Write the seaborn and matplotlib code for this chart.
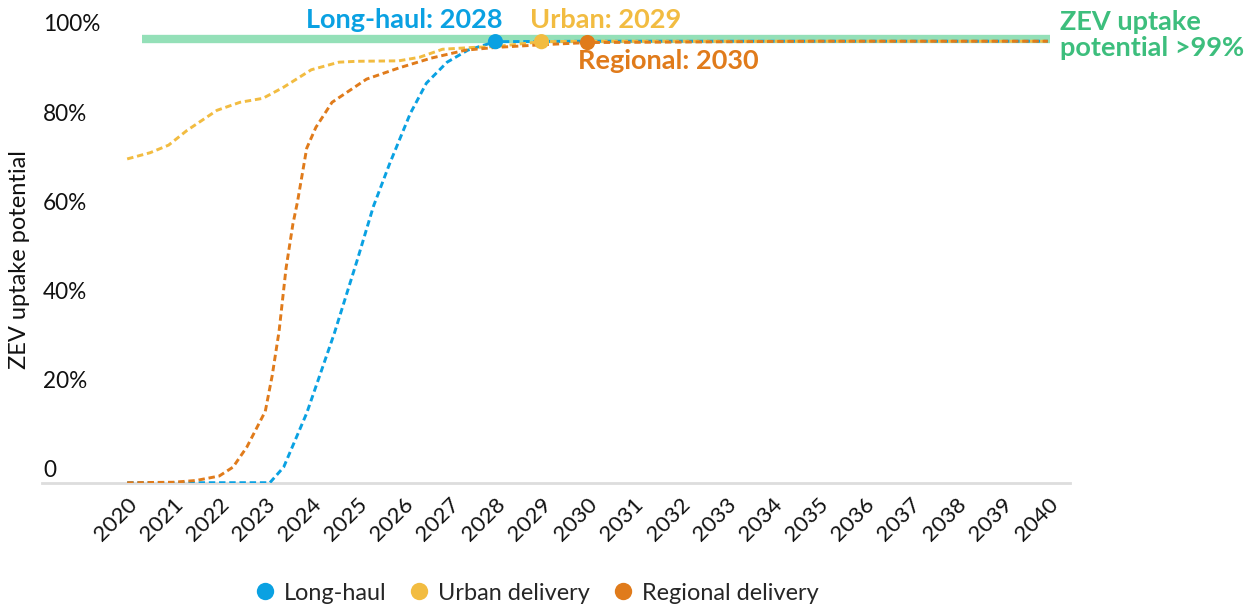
import matplotlib
matplotlib.use("Agg")
import matplotlib.pyplot as plt
import matplotlib.transforms as mtransforms
from matplotlib.lines import Line2D
import seaborn as sns
import pandas as pd

# Valores (ano, potencial de adoção ZEV)
longhaul_years = [2020, 2021, 2022, 2023, 2023.1, 2023.4, 2023.9, 2024.5, 2025.0, 2025.35,
                  2025.7, 2026.15, 2026.5, 2026.95, 2027.4, 2028, 2030, 2035, 2040]
longhaul_vals = [0, 0, 0, 0, 0, 0.035, 0.156, 0.335, 0.50, 0.62,
                 0.715, 0.828, 0.896, 0.943, 0.97, 0.989, 0.99, 0.99, 0.99]

urban_years = [2020, 2020.5, 2020.9, 2021.3, 2021.95, 2022.45, 2022.95, 2023.4, 2024.0, 2024.6,
               2025.0, 2025.9, 2026.35, 2026.85, 2027.5, 2028, 2029, 2030, 2035, 2040]
urban_vals = [0.726, 0.74, 0.757, 0.79, 0.835, 0.853, 0.862, 0.887, 0.926, 0.943,
              0.945, 0.946, 0.954, 0.972, 0.976, 0.978, 0.989, 0.99, 0.99, 0.99]

regional_years = [2020, 2021, 2021.5, 2022.0, 2022.3, 2022.6, 2022.9, 2023.0, 2023.15, 2023.3,
                  2023.45, 2023.6, 2023.7, 2023.9, 2024.1, 2024.45, 2025.2, 2025.9, 2026.6,
                  2027.35, 2028, 2029, 2030, 2035, 2040]
regional_vals = [0, 0.001, 0.005, 0.015, 0.035, 0.08, 0.14, 0.16, 0.24, 0.34,
                 0.48, 0.58, 0.63, 0.75, 0.797, 0.853, 0.905, 0.93, 0.952,
                 0.97, 0.976, 0.982, 0.987, 0.99, 0.99]

series_names = ["Long-haul", "Urban delivery", "Regional delivery"]
series_colors = ["#0AA1E2", "#F2BC41", "#E07B1B"]
milestone_years = [2028, 2029, 2030]
milestone_vals = [0.989, 0.989, 0.987]
milestone_labels = ["Long-haul: 2028", "Urban: 2029", "Regional: 2030"]

band_start, band_end, band_val = 2020.33, 2040.05, 0.994

year_ticks = list(range(2020, 2041))
y_ticks = [0, 0.2, 0.4, 0.6, 0.8, 1.0]
y_tick_labels = ["0", "20%", "40%", "60%", "80%", "100%"]

df = pd.concat([
    pd.DataFrame({"ano": longhaul_years, "valor": longhaul_vals, "serie": series_names[0]}),
    pd.DataFrame({"ano": urban_years, "valor": urban_vals, "serie": series_names[1]}),
    pd.DataFrame({"ano": regional_years, "valor": regional_vals, "serie": series_names[2]}),
])

sns.set_theme(style="white")
plt.rcParams["font.family"] = ["Lato", "DejaVu Sans"]

fig = plt.figure(figsize=(12.6, 6.07), dpi=100)
ax = fig.add_axes([42 / 1260, 1 - 482.7 / 607, 1028 / 1260, 472.7 / 607])

# Faixa verde do potencial >99%
ax.hlines(band_val, band_start, band_end, color="#94E0B8", linewidth=6, zorder=1)

for nome, cor in zip(series_names, series_colors):
    sub = df[df["serie"] == nome]
    sns.lineplot(data=sub, x="ano", y="valor", color=cor, linewidth=2.1,
                 linestyle=(0, (2.2, 1.3)), ax=ax, zorder=3)

ax.scatter(milestone_years, milestone_vals, color=series_colors, s=120, zorder=5,
           edgecolors="none")

# Rótulos dos marcos
fs_anot = 19.5
ax.text(2028.15, 1.037, milestone_labels[0], color=series_colors[0], fontsize=fs_anot,
        fontweight="bold", ha="right", va="center")
ax.text(2028.75, 1.037, milestone_labels[1], color=series_colors[1], fontsize=fs_anot,
        fontweight="bold", ha="left", va="center")
ax.text(2029.8, 0.946, milestone_labels[2], color=series_colors[2], fontsize=fs_anot,
        fontweight="bold", ha="left", va="center")
ax.text(2040.26, 1.004, "ZEV uptake\npotential >99%", color="#3DBE7D", fontsize=fs_anot,
        fontweight="bold", ha="left", va="center", linespacing=1.08, clip_on=False)

ax.set_xlim(2018.15, 2040.48)
ax.set_ylim(0, 1.06)

ax.set_xticks(year_ticks)
ax.set_xticklabels([str(a) for a in year_ticks], rotation=45, ha="right",
                   rotation_mode="anchor", fontsize=16, color="#111111")
offset = mtransforms.ScaledTranslation(7 / 100, 0, fig.dpi_scale_trans)
for lbl in ax.get_xticklabels():
    lbl.set_transform(lbl.get_transform() + offset)
ax.tick_params(axis="x", length=0, pad=8)

ax.set_yticks(y_ticks)
ax.set_yticklabels([])
ax.tick_params(axis="y", length=0)
for v, t in zip(y_ticks, y_tick_labels):
    ax.text(0.001, v + 0.003, t, transform=ax.get_yaxis_transform(), ha="left",
            va="bottom", fontsize=16.3, color="#111111")

ax.set_xlabel("")
ax.set_ylabel("ZEV uptake potential", fontsize=17, color="#111111")
ax.yaxis.set_label_coords(-0.0117, 0.471)

for s in ["top", "right", "left"]:
    ax.spines[s].set_visible(False)
ax.spines["bottom"].set_color("#DDDDDD")
ax.spines["bottom"].set_linewidth(2)

handles = [Line2D([0], [0], marker="o", linestyle="none", markersize=12.5,
                  markerfacecolor=c, markeredgecolor="none") for c in series_colors]
fig.legend(handles, series_names, loc="center", bbox_to_anchor=(536 / 1260, 1 - 593 / 607),
           ncol=3, frameon=False, fontsize=16.9, handletextpad=0.3, columnspacing=0.9,
           handlelength=1.0)

fig.savefig("out.png", dpi=100)
